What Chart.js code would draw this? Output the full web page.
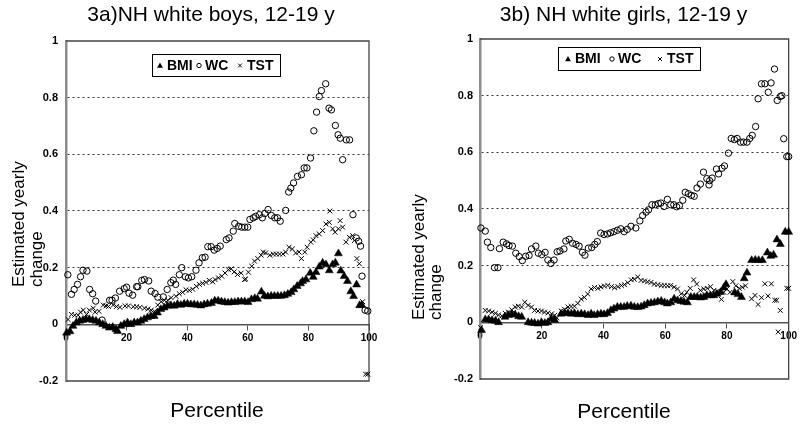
<!DOCTYPE html>
<html lang="en">
<head>
    <meta charset="UTF-8">
    <title>Estimated yearly change by percentile</title>
    <script src="https://cdn.jsdelivr.net/npm/chart.js@4"></script>
    <style>
        html, body {
            margin: 0;
            padding: 0;
            background: #fff;
            overflow: hidden;
        }

        #wrap {
            position: relative;
            width: 800px;
            height: 425px;
            overflow: hidden;
        }

        canvas {
            position: absolute;
            top: 0;
        }

        #boys { left: 0; }
        #girls { left: 400px; }
    </style>
</head>
<body>
    <div id="wrap">
        <canvas id="boys" width="400" height="425"></canvas>
        <canvas id="girls" width="400" height="425"></canvas>
    </div>

    <script>
        // 3a) boys - percentile (x) and estimated yearly change (y)
        const boysBmiPct = [0.2,1.3,2.3,3.4,4.5,5.6,6.6,7.7,8.8,9.9,11.0,12.1,13.2,14.3,15.4,16.5,17.0,18.1,19.2,20.3,21.4,22.5,23.6,24.7,25.8,26.9,28.0,29.1,30.2,31.3,32.4,33.5,34.6,35.7,36.8,37.9,39.0,40.1,41.2,42.3,43.4,44.5,45.6,46.7,48.0,49.1,50.2,51.3,52.4,53.5,54.6,55.7,56.8,57.9,59.0,60.1,61.2,62.3,63.2,64.5,65.5,66.6,67.7,68.8,69.9,71.0,72.1,73.2,74.3,75.2,76.3,77.4,78.1,79.2,80.6,81.6,82.5,83.6,84.7,85.8,86.9,88.0,88.9,89.9,90.7,91.8,92.9,94.0,94.9,95.9,96.9,97.6];
        const boysBmiVal = [-0.030,-0.025,-0.006,0.006,0.012,0.015,0.018,0.018,0.015,0.012,0.006,0.000,-0.006,-0.012,-0.010,-0.018,-0.024,-0.006,0.000,0.006,0.000,0.006,0.006,0.012,0.018,0.024,0.029,0.029,0.041,0.053,0.059,0.065,0.067,0.065,0.071,0.068,0.072,0.072,0.070,0.070,0.068,0.066,0.070,0.072,0.075,0.083,0.083,0.080,0.078,0.076,0.078,0.078,0.080,0.080,0.080,0.078,0.088,0.092,0.090,0.115,0.100,0.098,0.100,0.100,0.100,0.100,0.102,0.107,0.113,0.123,0.135,0.144,0.152,0.158,0.181,0.167,0.184,0.203,0.217,0.211,0.190,0.211,0.217,0.250,0.189,0.170,0.152,0.116,0.099,0.140,0.067,0.068];

        const boysWcPct = [0.6,1.8,2.7,3.8,4.8,5.6,6.9,7.8,8.8,9.8,11.9,14.4,15.2,16.3,17.7,19.2,20.0,20.8,22.0,23.3,23.7,25.0,25.9,27.3,28.1,29.4,30.3,32.1,33.4,34.6,35.4,36.2,37.4,38.2,39.4,40.4,41.5,42.9,43.9,45.0,45.9,46.8,47.9,48.9,49.9,50.9,52.9,53.8,55.2,55.7,57.0,58.0,59.0,60.0,60.7,61.8,62.6,63.8,64.8,65.6,66.7,67.8,68.9,69.8,70.7,72.5,73.5,74.2,75.1,76.4,77.7,78.6,79.5,80.7,81.8,82.7,83.6,84.3,85.7,86.8,87.6,88.9,89.8,90.5,91.3,92.5,93.6,94.7,95.8,96.6,97.2,97.7,98.7,99.6];
        const boysWcVal = [0.175,0.106,0.123,0.141,0.168,0.191,0.188,0.123,0.108,0.082,0.015,0.085,0.085,0.093,0.117,0.126,0.131,0.110,0.103,0.133,0.133,0.155,0.158,0.153,0.117,0.109,0.096,0.097,0.123,0.147,0.156,0.141,0.175,0.200,0.168,0.164,0.168,0.191,0.217,0.235,0.237,0.274,0.274,0.262,0.268,0.276,0.299,0.305,0.329,0.356,0.346,0.343,0.343,0.343,0.370,0.376,0.381,0.387,0.376,0.391,0.405,0.384,0.376,0.376,0.364,0.402,0.467,0.481,0.499,0.522,0.528,0.552,0.552,0.587,0.683,0.749,0.804,0.825,0.849,0.763,0.757,0.702,0.669,0.657,0.581,0.651,0.651,0.387,0.305,0.293,0.276,0.170,0.050,0.047];

        const boysTstPct = [0.7,1.8,2.9,4.0,4.8,5.7,6.8,7.7,9.0,9.6,10.9,12.3,13.2,14.0,15.6,16.7,17.8,19.5,20.6,22.2,23.3,24.4,25.9,27.0,28.1,29.2,30.3,31.4,32.5,33.6,34.7,36.3,37.4,38.5,39.6,40.7,41.8,43.0,44.0,45.1,46.2,47.3,48.4,49.2,50.3,51.4,52.5,53.6,54.5,55.5,56.6,57.8,58.9,59.3,60.2,61.3,62.2,63.3,64.4,65.1,65.9,67.3,68.4,69.4,70.5,71.6,72.5,73.6,74.7,75.8,76.9,77.7,78.8,79.6,80.8,81.6,82.5,83.6,84.7,85.8,86.9,87.1,88.0,88.8,89.9,90.5,91.3,92.4,93.5,94.6,95.2,96.0,96.8,97.9,98.9,99.6];
        const boysTstVal = [0.017,0.035,0.032,0.032,0.043,0.050,0.035,0.050,0.057,0.043,0.046,0.068,0.065,0.063,0.068,0.063,0.060,0.065,0.065,0.062,0.062,0.060,0.057,0.054,0.050,0.046,0.068,0.080,0.085,0.085,0.094,0.099,0.108,0.113,0.122,0.120,0.124,0.134,0.141,0.145,0.148,0.155,0.150,0.158,0.164,0.170,0.181,0.193,0.196,0.185,0.176,0.181,0.158,0.160,0.184,0.205,0.223,0.232,0.244,0.255,0.252,0.244,0.248,0.248,0.248,0.248,0.255,0.272,0.266,0.252,0.255,0.232,0.255,0.272,0.290,0.298,0.313,0.319,0.331,0.354,0.360,0.400,0.337,0.325,0.337,0.366,0.343,0.290,0.307,0.313,0.296,0.232,0.214,0.080,-0.176,-0.176];

        // 3b) girls
        const girlsBmiPct = [0.5,1.7,2.8,3.9,5.0,6.0,8.1,9.2,10.3,11.4,12.5,13.5,15.6,16.7,17.7,18.8,19.9,21.0,22.0,23.1,24.2,26.3,27.4,28.5,29.6,30.6,31.7,32.8,33.9,35.0,36.0,37.0,38.1,39.2,40.2,41.3,42.4,43.4,44.5,45.6,46.7,47.7,48.9,50.0,51.1,52.2,53.2,54.3,55.4,56.5,57.6,58.7,59.8,60.7,61.8,62.9,64.0,65.1,66.1,67.2,68.3,69.4,70.4,71.5,72.5,73.5,74.6,75.7,76.8,77.9,79.0,79.7,82.5,83.6,84.7,85.6,86.5,88.0,89.2,90.3,91.5,93.1,94.2,95.1,96.2,97.3,98.9,100.0];
        const girlsBmiVal = [-0.028,0.010,0.010,0.007,0.005,0.000,0.019,0.025,0.028,0.027,0.021,0.019,0.000,-0.002,-0.003,-0.005,0.000,-0.003,0.000,0.013,0.008,0.030,0.032,0.032,0.030,0.032,0.028,0.030,0.028,0.025,0.030,0.025,0.028,0.030,0.028,0.032,0.042,0.048,0.054,0.054,0.054,0.057,0.058,0.054,0.053,0.055,0.060,0.066,0.068,0.070,0.073,0.075,0.070,0.066,0.070,0.083,0.077,0.075,0.072,0.070,0.089,0.089,0.089,0.087,0.089,0.095,0.095,0.095,0.100,0.106,0.122,0.134,0.105,0.099,0.089,0.155,0.175,0.219,0.220,0.219,0.219,0.246,0.234,0.238,0.292,0.276,0.319,0.319];

        const girlsWcPct = [0.3,1.7,2.4,3.5,4.7,5.8,6.3,7.5,8.6,9.4,10.5,11.6,12.7,13.7,14.8,15.9,16.7,18.1,18.9,20.0,21.1,22.0,23.0,24.0,25.0,25.9,27.2,27.8,28.9,30.0,31.1,32.1,33.2,34.0,35.1,36.2,37.2,38.0,39.1,40.2,41.3,42.3,43.4,44.5,45.6,46.7,47.7,48.9,50.5,51.8,52.7,53.8,54.6,55.7,56.8,57.8,58.6,59.6,60.7,61.8,62.8,63.7,64.6,65.7,66.5,67.5,68.5,69.4,70.3,71.4,72.4,73.5,74.2,74.4,75.2,76.6,77.3,78.4,79.2,80.5,81.4,82.4,83.3,84.4,85.4,86.5,87.4,88.2,89.3,90.1,91.2,92.3,93.4,94.3,95.4,96.3,97.3,97.8,98.4,99.4,100.0];
        const girlsWcVal = [0.333,0.322,0.283,0.264,0.193,0.193,0.260,0.283,0.277,0.271,0.269,0.244,0.232,0.218,0.233,0.236,0.259,0.269,0.244,0.239,0.247,0.220,0.208,0.220,0.249,0.252,0.259,0.287,0.293,0.279,0.275,0.269,0.247,0.237,0.262,0.264,0.275,0.285,0.315,0.310,0.312,0.316,0.320,0.325,0.330,0.320,0.328,0.339,0.333,0.358,0.377,0.389,0.397,0.415,0.415,0.419,0.421,0.409,0.434,0.415,0.415,0.408,0.412,0.431,0.459,0.454,0.448,0.445,0.474,0.488,0.530,0.507,0.485,0.500,0.509,0.541,0.524,0.544,0.552,0.597,0.649,0.645,0.649,0.636,0.636,0.636,0.649,0.660,0.691,0.789,0.842,0.842,0.812,0.845,0.894,0.783,0.797,0.800,0.648,0.585,0.585];

        const girlsTstPct = [0.2,1.7,2.8,3.9,5.0,6.0,7.1,8.2,9.2,10.3,11.4,12.4,13.5,14.5,15.6,16.7,17.7,18.8,19.9,20.9,22.0,23.2,24.2,24.9,26.3,27.4,28.5,29.5,30.6,31.7,32.8,33.8,34.9,36.0,37.1,38.2,39.2,40.3,41.4,42.6,43.6,44.7,45.8,46.8,47.9,49.0,50.0,51.1,52.2,53.3,54.3,55.4,56.5,57.6,58.7,59.7,60.8,61.8,62.9,64.0,65.2,66.3,67.0,68.1,69.2,70.2,71.4,72.5,73.6,74.7,75.8,76.8,78.2,79.0,80.0,81.0,81.9,82.9,84.0,85.0,86.0,88.0,89.1,90.1,91.2,92.3,93.3,94.4,95.5,96.1,96.6,97.3,99.4,100.0];
        const girlsTstVal = [-0.019,0.042,0.040,0.036,0.032,0.026,0.023,0.032,0.036,0.044,0.054,0.057,0.054,0.071,0.060,0.054,0.042,0.040,0.040,0.036,0.033,0.030,0.025,0.016,0.040,0.046,0.054,0.056,0.057,0.067,0.082,0.088,0.100,0.118,0.123,0.120,0.125,0.128,0.130,0.126,0.122,0.126,0.130,0.133,0.140,0.150,0.152,0.160,0.148,0.146,0.143,0.141,0.135,0.133,0.130,0.130,0.129,0.130,0.124,0.118,0.101,0.095,0.106,0.120,0.150,0.135,0.113,0.118,0.120,0.126,0.113,0.109,0.081,0.106,0.118,0.106,0.144,0.129,0.120,0.124,0.129,0.083,0.095,0.063,0.087,0.136,0.093,0.136,0.078,0.078,-0.034,0.042,0.120,0.120];

        const seriesNames = ['BMI', 'WC', 'TST'];
        const xTicks = [0, 20, 40, 60, 80, 100];
        const yTicks = [-0.2, 0, 0.2, 0.4, 0.6, 0.8, 1];
        const yTitle = ['Estimated yearly', 'change'];
        const xTitle = 'Percentile';

        const FONT = 'Arial, "Liberation Sans", sans-serif';

        const toPoints = (xs, ys) => xs.map((x, i) => ({ x: x, y: ys[i] }));

        // little marker shapes for the boxed legend
        const drawMarker = (ctx, shape, x, y) => {
            ctx.beginPath();
            if (shape === 'tri') {
                ctx.moveTo(x, y - 3);
                ctx.lineTo(x + 2.9, y + 2.2);
                ctx.lineTo(x - 2.9, y + 2.2);
                ctx.closePath();
                ctx.fill();
            } else if (shape === 'circle') {
                ctx.arc(x, y, 2.2, 0, Math.PI * 2);
                ctx.stroke();
            } else {
                ctx.moveTo(x - 1.9, y - 1.9);
                ctx.lineTo(x + 1.9, y + 1.9);
                ctx.moveTo(x + 1.9, y - 1.9);
                ctx.lineTo(x - 1.9, y + 1.9);
                ctx.stroke();
            }
        };

        // box around the plot (top, right, bottom); the left side is the y axis line
        const frame = {
            id: 'frame',
            beforeDatasetsDraw(chart) {
                const { ctx, chartArea: a } = chart;
                ctx.save();
                ctx.strokeStyle = '#444';
                ctx.lineWidth = 1.3;
                ctx.beginPath();
                ctx.moveTo(a.left, a.top);
                ctx.lineTo(a.right, a.top);
                ctx.lineTo(a.right, a.bottom);
                ctx.lineTo(a.left, a.bottom);
                ctx.stroke();
                ctx.restore();
            }
        };

        // panel title, axis titles and the boxed legend
        const panelText = (cfg) => ({
            id: 'panelText',
            afterDraw(chart) {
                const ctx = chart.ctx;
                ctx.save();
                ctx.fillStyle = '#000';
                ctx.strokeStyle = '#000';
                ctx.textBaseline = 'middle';

                ctx.font = '21px ' + FONT;
                ctx.textAlign = 'center';
                ctx.fillText(cfg.title, cfg.titleAt[0], cfg.titleAt[1]);
                ctx.fillText(xTitle, cfg.xTitleAt[0], cfg.xTitleAt[1]);

                ctx.font = '17px ' + FONT;
                ctx.textAlign = 'left';
                yTitle.forEach((line, i) => {
                    ctx.save();
                    ctx.translate(cfg.yTitleX[i], cfg.yTitleStart);
                    ctx.rotate(-Math.PI / 2);
                    ctx.fillText(line, 0, 0);
                    ctx.restore();
                });

                const b = cfg.legendBox;
                ctx.fillStyle = '#fff';
                ctx.fillRect(b[0], b[1], b[2], b[3]);
                ctx.lineWidth = 1;
                ctx.strokeRect(b[0] + 0.5, b[1] + 0.5, b[2], b[3]);
                const midY = b[1] + b[3] / 2 + 0.5;
                ctx.fillStyle = '#000';
                ctx.font = 'bold 14px ' + FONT;
                ['tri', 'circle', 'cross'].forEach((shape, i) => {
                    drawMarker(ctx, shape, cfg.legendMarkX[i], midY);
                    ctx.fillText(seriesNames[i], cfg.legendTextX[i], midY + 0.5);
                });
                ctx.restore();
            }
        });

        const createPanel = (id, pct, val, layout) => {
            return new Chart(document.getElementById(id), {
                type: 'scatter',
                data: {
                    datasets: [
                        {
                            label: seriesNames[0],
                            data: toPoints(pct[0], val[0]),
                            pointStyle: 'triangle',
                            pointRadius: 4.6,
                            backgroundColor: '#000',
                            borderColor: '#000',
                            borderWidth: 0.5,
                            clip: false
                        },
                        {
                            label: seriesNames[1],
                            data: toPoints(pct[1], val[1]),
                            pointStyle: 'circle',
                            pointRadius: 3.2,
                            backgroundColor: 'rgba(0,0,0,0)',
                            borderColor: '#000',
                            borderWidth: 1,
                            clip: false
                        },
                        {
                            label: seriesNames[2],
                            data: toPoints(pct[2], val[2]),
                            pointStyle: 'crossRot',
                            pointRadius: 3.4,
                            borderColor: '#000',
                            borderWidth: 1,
                            clip: false
                        }
                    ]
                },
                options: {
                    responsive: false,
                    animation: false,
                    events: [],
                    layout: { padding: layout.padding },
                    plugins: {
                        legend: { display: false },
                        tooltip: { enabled: false },
                        title: { display: false }
                    },
                    scales: {
                        x: {
                            type: 'linear',
                            position: { y: 0 },
                            min: xTicks[0],
                            max: xTicks[xTicks.length - 1],
                            afterBuildTicks: (s) => { s.ticks = xTicks.map(v => ({ value: v })); },
                            ticks: {
                                color: '#000',
                                padding: 3,
                                maxRotation: 0,
                                font: { family: FONT, size: 10, weight: 'bold' }
                            },
                            grid: { drawOnChartArea: false, drawTicks: true, tickLength: 5, color: '#555' },
                            border: { color: '#555', width: 1.5 }
                        },
                        y: {
                            min: yTicks[0],
                            max: yTicks[yTicks.length - 1],
                            afterBuildTicks: (s) => { s.ticks = yTicks.map(v => ({ value: v })); },
                            afterFit: (s) => { s.width = 40; },
                            ticks: {
                                color: '#000',
                                padding: layout.yTickPad,
                                callback: (v) => String(Math.round(v * 10) / 10),
                                font: { family: FONT, size: 11, weight: 'bold' }
                            },
                            grid: {
                                drawTicks: false,
                                lineWidth: 1,
                                color: (c) => (c.tick && c.tick.value > 0.1 && c.tick.value < 0.9) ? '#333' : 'rgba(0,0,0,0)'
                            },
                            border: { color: '#8c8c8c', width: 2.5, dash: [2, 3] }
                        }
                    }
                },
                plugins: [frame, panelText(layout)]
            });
        };

        document.addEventListener('DOMContentLoaded', () => {
            createPanel('boys',
                [boysBmiPct, boysWcPct, boysTstPct],
                [boysBmiVal, boysWcVal, boysTstVal],
                {
                    title: '3a)NH white boys, 12-19 y',
                    titleAt: [211, 15.5],
                    padding: { left: 26, right: 31, top: 41, bottom: 44 },
                    yTickPad: 8,
                    yTitleX: [19, 37],
                    yTitleStart: 287,
                    xTitleAt: [217, 411.5],
                    legendBox: [152, 54, 128, 22],
                    legendMarkX: [160, 199, 240],
                    legendTextX: [167, 205, 247]
                });

            createPanel('girls',
                [girlsBmiPct, girlsWcPct, girlsTstPct],
                [girlsBmiVal, girlsWcVal, girlsTstVal],
                {
                    title: '3b) NH white girls, 12-19 y',
                    titleAt: [223.5, 15.5],
                    padding: { left: 40, right: 10, top: 39, bottom: 46 },
                    yTickPad: 7,
                    yTitleX: [19, 36],
                    yTitleStart: 320,
                    xTitleAt: [224, 412],
                    legendBox: [158, 47, 142, 23],
                    legendMarkX: [168, 212, 260],
                    legendTextX: [175, 218, 267]
                });
        });
    </script>
</body>
</html>
